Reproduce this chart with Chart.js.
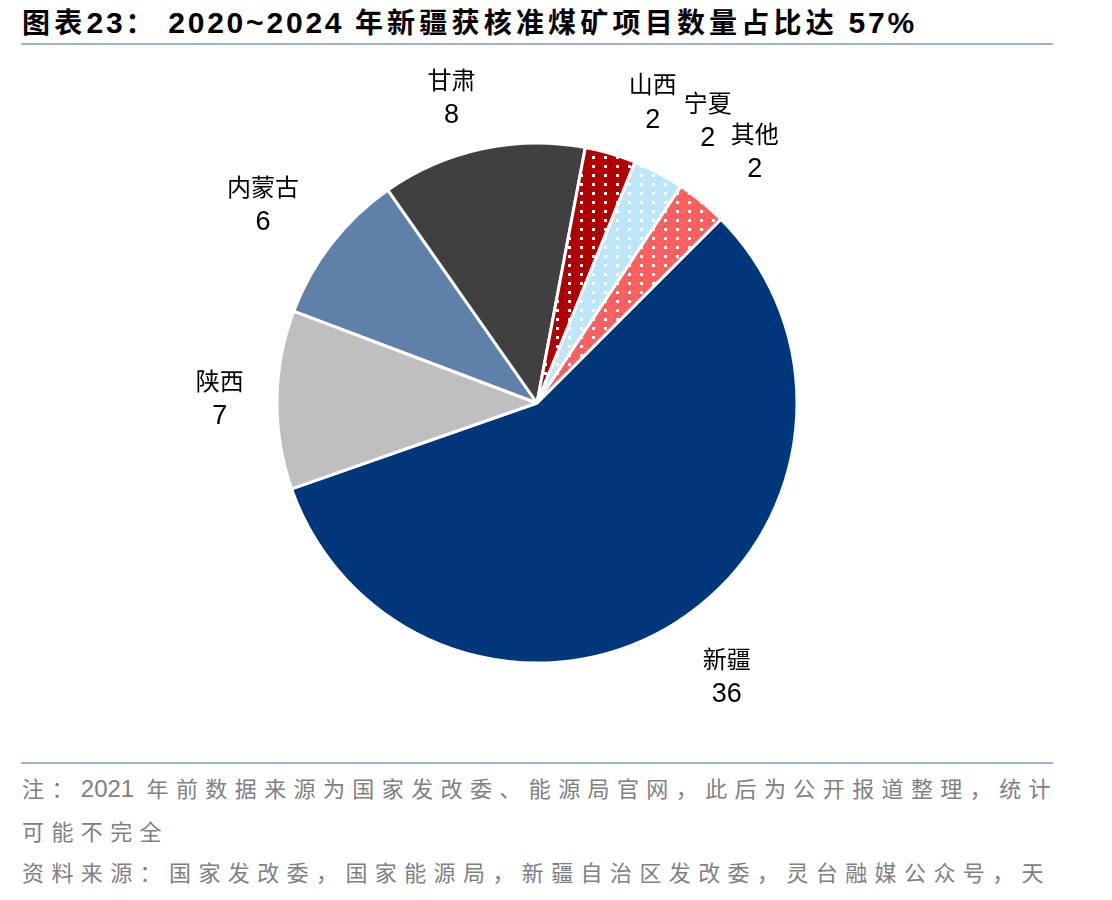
<!DOCTYPE html>
<html>
<head>
<meta charset="utf-8">
<script src="https://cdn.jsdelivr.net/npm/chart.js@4.4.0/dist/chart.umd.min.js"></script>
<style>
  html, body { margin: 0; padding: 0; background: #fff; }
  #wrap { position: relative; width: 1112px; height: 900px; overflow: hidden; }
  #title { position: absolute; left: 22px; top: 0; height: 42px; line-height: 42px; white-space: nowrap;
    font-family: "Noto Sans CJK SC", sans-serif; font-weight: 700; font-size: 28px; letter-spacing: 4.2px; color: #000; }
  #title .lat { font-family: "Liberation Sans", Arial, sans-serif; font-size: 30px; font-weight: 700; letter-spacing: 2.8px; }
  .rule { position: absolute; left: 21px; width: 1032px; height: 2px; background: #9DB3CC; }
  #notes { position: absolute; left: 22px; top: 767px; width: 1090px; white-space: nowrap;
    font-family: "Noto Sans CJK SC", sans-serif; font-size: 22px; line-height: 41.5px; letter-spacing: 7.4px; color: #808080; }
  #notes .lat { font-family: "Liberation Sans", Arial, sans-serif; font-size: 24px; letter-spacing: 0px; }
  canvas { position: absolute; left: 0; top: 0; }
</style>
</head>
<body>
<div id="wrap">
  <div id="title">图表<span class="lat">23</span>： <span class="lat">2020~2024</span> 年新疆获核准煤矿项目数量占比达 <span class="lat">57%</span></div>
  <div class="rule" style="top:43px"></div>
  <div class="rule" style="top:762px"></div>
  <div id="notes">
    <div>注：<span class="lat">2021</span> 年前数据来源为国家发改委、能源局官网，此后为公开报道整理，统计</div>
    <div>可能不完全</div>
    <div>资料来源：国家发改委，国家能源局，新疆自治区发改委，灵台融媒公众号，天</div>
    <div>风证券研究所</div>
  </div>
  <canvas id="c" width="1112" height="900"></canvas>
</div>
<script>
const categories = ["新疆", "陕西", "内蒙古", "甘肃", "山西", "宁夏", "其他"];
const projectCounts = [36, 7, 6, 8, 2, 2, 2];

const baseColors = ["#00377A", "#BFBFBF", "#5E80A9", "#404040", "#B00000", "#BDE7F8", "#FF5F5F"];
const dotted = [false, false, false, false, true, true, true];
// label placement: radial factor and angle nudge (degrees) relative to slice middle
const labelRadial = [1.28, 1.22, 1.30, 1.22, 1.24, 1.27, 1.28];
const labelNudge = [-2.6, 0, -2, -3.5, 4.6, 3.3, 1.6];

function dotPattern(color) {
  const t = document.createElement('canvas');
  t.width = 12; t.height = 9;
  const g = t.getContext('2d');
  g.fillStyle = color; g.fillRect(0, 0, 12, 9);
  g.fillStyle = '#ffffff'; g.fillRect(4, 3, 3, 3);
  return document.getElementById('c').getContext('2d').createPattern(t, 'repeat');
}
const fills = baseColors.map((c, i) => dotted[i] ? dotPattern(c) : c);

const labelPlugin = {
  id: 'outLabels',
  afterDatasetsDraw(chart) {
    const ctx = chart.ctx;
    const meta = chart.getDatasetMeta(0);
    ctx.save();
    ctx.textAlign = 'center';
    ctx.textBaseline = 'middle';
    ctx.fillStyle = '#000';
    meta.data.forEach((arc, i) => {
      const p = arc.getProps(['x', 'y', 'startAngle', 'endAngle', 'outerRadius'], true);
      const a = (p.startAngle + p.endAngle) / 2 + labelNudge[i] * Math.PI / 180;
      const d = p.outerRadius * labelRadial[i];
      const x = p.x + d * Math.cos(a);
      const y = p.y + d * Math.sin(a);
      ctx.font = '24px "Noto Sans CJK SC", sans-serif';
      ctx.fillText(categories[i], x, y - 18);
      ctx.font = '27px "Liberation Sans", Arial, sans-serif';
      ctx.fillText(String(projectCounts[i]), x, y + 18);
    });
    ctx.restore();
  }
};

new Chart(document.getElementById('c'), {
  type: 'pie',
  data: {
    labels: categories,
    datasets: [{
      data: projectCounts,
      backgroundColor: fills,
      borderColor: '#ffffff',
      borderWidth: 3
    }]
  },
  options: {
    responsive: false,
    animation: false,
    devicePixelRatio: 1,
    rotation: 45,
    radius: 260,
    layout: { padding: { left: 0, right: 38, top: 0, bottom: 94 } },
    plugins: { legend: { display: false }, tooltip: { enabled: false } }
  },
  plugins: [labelPlugin]
});
</script>
</body>
</html>
